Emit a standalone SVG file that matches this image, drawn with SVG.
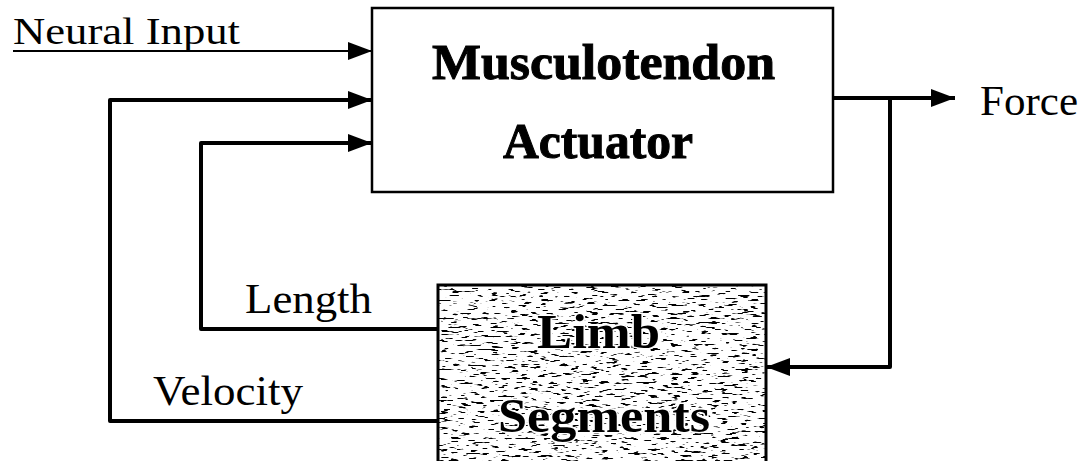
<svg xmlns="http://www.w3.org/2000/svg" width="1090" height="461" viewBox="0 0 1090 461">
<style>
.lbl{font-family:"Liberation Serif","Times New Roman",serif;fill:#000}
.bold{font-family:"Liberation Serif","Times New Roman",serif;font-weight:bold;fill:#000;stroke:#000;stroke-width:1}
.box{fill:#fff;stroke:#000;stroke-width:2.5}
.thin{fill:none;stroke:#000;stroke-width:2}
.thick{fill:none;stroke:#000;stroke-width:4;stroke-linejoin:round}
.halo{stroke:#fff;stroke-width:3;paint-order:stroke}
</style>
<defs>
<marker id="ah" markerUnits="userSpaceOnUse" markerWidth="26" markerHeight="24" refX="24" refY="12" orient="auto">
<path d="M0,3 L24,12 L0,21 Z" fill="#000"/>
</marker>
<filter id="speckle" x="0" y="0" width="100%" height="100%">
<feTurbulence type="fractalNoise" baseFrequency="0.1 0.45" numOctaves="2" seed="7" result="n"/>
<feColorMatrix in="n" type="matrix" values="0 0 0 0 0  0 0 0 0 0  0 0 0 0 0  -14 0 0 0 5.6"/>
</filter>
</defs>
<g id="connectors">
<path class="thin" d="M13,51 H372" marker-end="url(#ah)"/>
<path class="thick" d="M438,421 H110 V100 H372" marker-end="url(#ah)"/>
<path class="thick" d="M438,329 H201 V143 H372" marker-end="url(#ah)"/>
<path class="thick" d="M833,98 H955" marker-end="url(#ah)"/>
<path class="thick" d="M890,98 V367 H766" marker-end="url(#ah)"/>
</g>
<g id="actuator">
<rect class="box" x="372" y="8" width="461" height="184"/>
<text class="bold" x="432" y="79" font-size="51" textLength="343" lengthAdjust="spacingAndGlyphs">Musculotendon</text>
<text class="bold" x="503" y="158" font-size="51" textLength="190" lengthAdjust="spacingAndGlyphs">Actuator</text>
</g>
<g id="limb">
<rect x="438" y="285" width="328" height="190" fill="#fff"/>
<rect x="438" y="285" width="328" height="190" fill="#fff" filter="url(#speckle)"/>
<rect x="438" y="285" width="328" height="190" fill="none" stroke="#000" stroke-width="3"/>
<text class="lbl halo" x="537" y="348" font-size="48" font-weight="bold" textLength="123" lengthAdjust="spacingAndGlyphs">Limb</text>
<text class="lbl halo" x="498" y="432" font-size="48" font-weight="bold" textLength="212" lengthAdjust="spacingAndGlyphs">Segments</text>
</g>
<g id="labels">
<text class="lbl" x="13" y="44" font-size="38" textLength="227" lengthAdjust="spacingAndGlyphs">Neural Input</text>
<text class="lbl" x="980" y="115" font-size="42" textLength="98" lengthAdjust="spacingAndGlyphs">Force</text>
<text class="lbl" x="245" y="313" font-size="42" textLength="127" lengthAdjust="spacingAndGlyphs">Length</text>
<text class="lbl" x="153" y="405" font-size="42" textLength="150" lengthAdjust="spacingAndGlyphs">Velocity</text>
</g>
</svg>
